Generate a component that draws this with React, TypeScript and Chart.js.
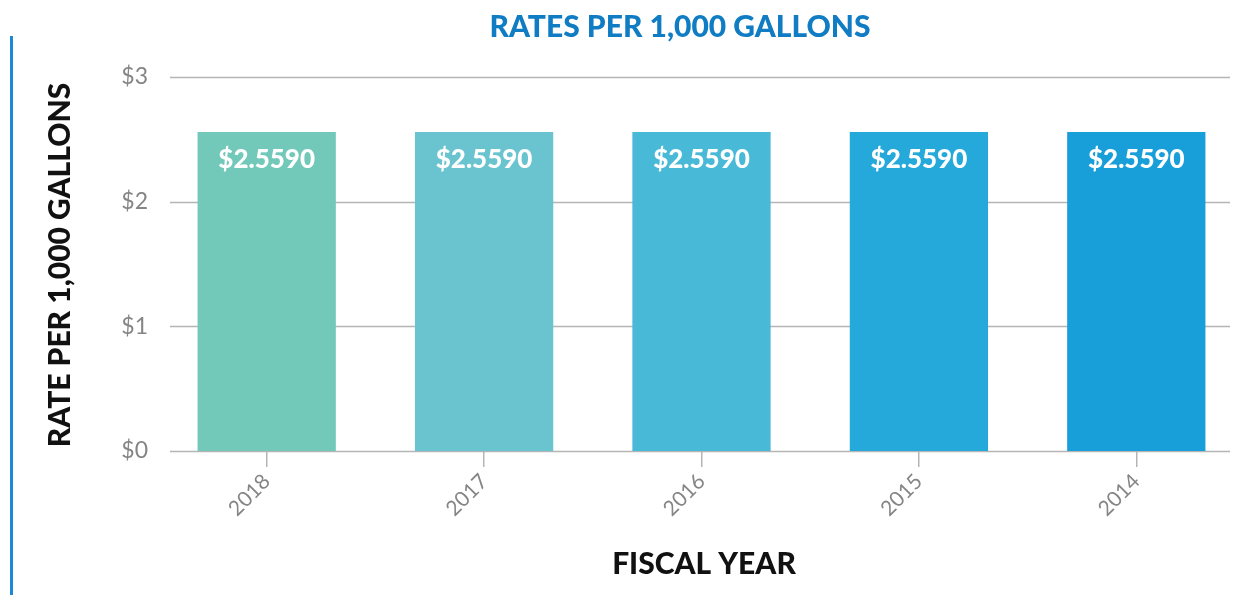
import React, { useEffect, useRef } from "react";
import { Chart, registerables } from "chart.js";

Chart.register(...registerables);

const categories = ["2018", "2017", "2016", "2015", "2014"];
const rates = [2.559, 2.559, 2.559, 2.559, 2.559];
const barColors = ["#72C8B9", "#6AC4D0", "#48B9D6", "#25A9DA", "#189ED8"];
const yTicks = [0, 1, 2, 3];
const chartTitle = "RATES PER 1,000 GALLONS";
const yTitle = "RATE PER 1,000 GALLONS";
const xTitle = "FISCAL YEAR";

const FONT = "Lato, 'Open Sans', sans-serif";

const decorPlugin = {
  id: "decor",
  beforeDatasetsDraw(chart: any) {
    const { ctx, chartArea } = chart;
    const y = chart.scales.y;
    ctx.save();
    ctx.strokeStyle = "#b5b5b5";
    ctx.lineWidth = 1.5;
    yTicks.forEach((v) => {
      const py = Math.round(y.getPixelForValue(v)) + 0.5;
      ctx.beginPath();
      ctx.moveTo(chartArea.left + 12, py);
      ctx.lineTo(chartArea.right - 15, py);
      ctx.stroke();
    });
    ctx.restore();
  },
  afterDraw(chart: any) {
    const { ctx, chartArea } = chart;
    ctx.save();
    // left accent line
    ctx.fillStyle = "#1A8AD4";
    ctx.fillRect(10, 36, 3, chart.height - 36);
    // title
    ctx.fillStyle = "#0F7CC4";
    ctx.font = `900 30px ${FONT}`;
    ctx.textAlign = "center";
    ctx.textBaseline = "middle";
    ctx.fillText(chartTitle, 680, 27);
    // x title
    ctx.fillStyle = "#111";
    ctx.font = `900 30px ${FONT}`;
    ctx.fillText(xTitle, 704, 564);
    // y title
    ctx.translate(60, (chartArea.top + chartArea.bottom) / 2 + 1);
    ctx.rotate(-Math.PI / 2);
    ctx.fillText(yTitle, 0, 0);
    ctx.restore();
    // data labels
    const meta = chart.getDatasetMeta(0);
    ctx.save();
    ctx.fillStyle = "#ffffff";
    ctx.font = `900 26px ${FONT}`;
    ctx.textAlign = "center";
    ctx.textBaseline = "middle";
    meta.data.forEach((bar: any, i: number) => {
      ctx.fillText("$" + rates[i].toFixed(4), bar.x, bar.y + 28);
    });
    ctx.restore();
  },
};

export default function App() {
  const ref = useRef<HTMLCanvasElement>(null);
  useEffect(() => {
    document.body.style.margin = "0";
    const chart = new Chart(ref.current!, {
      type: "bar",
      data: {
        labels: categories,
        datasets: [
          {
            data: rates,
            backgroundColor: barColors,
            barPercentage: 0.636,
            categoryPercentage: 1,
          },
        ],
      },
      options: {
        animation: false,
        responsive: false,
        layout: { padding: { left: 108, right: 9, top: 77, bottom: 0 } },
        plugins: { legend: { display: false }, tooltip: { enabled: false } },
        scales: {
          y: {
            min: 0,
            max: 3,
            afterFit(scale: any) {
              scale.width = 50;
            },
            ticks: {
              stepSize: 1,
              padding: 2,
              color: "#858585",
              font: { family: FONT, size: 23, weight: 400 as any },
              callback: (v: any) => "$" + v,
            },
            grid: { display: false },
            border: { display: false },
          },
          x: {
            afterFit(scale: any) {
              scale.height = 144;
            },
            ticks: {
              minRotation: 45,
              maxRotation: 45,
              padding: 2,
              color: "#858585",
              font: { family: FONT, size: 21, weight: 400 as any },
            },
            grid: {
              offset: false,
              drawOnChartArea: false,
              drawTicks: true,
              tickLength: 16,
              color: "#b5b5b5",
              lineWidth: 1.5,
            },
            border: { display: false },
          },
        },
      },
      plugins: [decorPlugin],
    });
    return () => chart.destroy();
  }, []);
  return <canvas ref={ref} width={1254} height={595} style={{ display: "block" }} />;
}
